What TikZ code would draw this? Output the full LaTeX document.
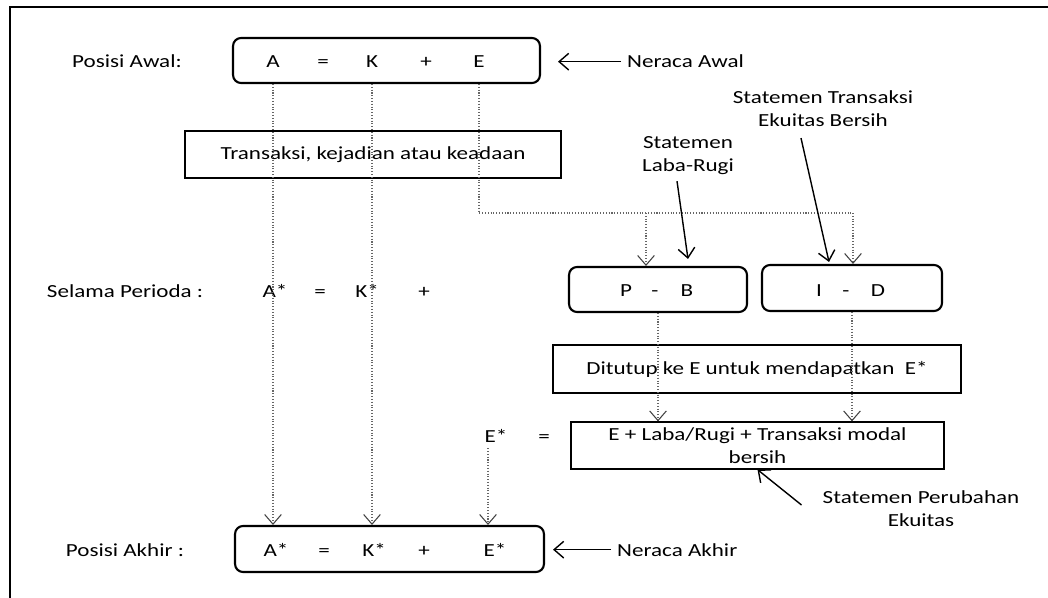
\documentclass[tikz,border=0pt]{standalone}
\usepackage{fontspec}
\setmainfont{Carlito}[FakeStretch=1.25]
\usetikzlibrary{arrows.meta}

\begin{document}
\begin{tikzpicture}[x=0.02cm, y=-0.02cm,
    font=\fontsize{10.5}{13}\selectfont,
    roundbox/.style={draw, line width=1.2pt, rounded corners=0.16cm, inner sep=0pt},
    plainbox/.style={draw, line width=0.7pt, inner sep=0pt},
    dotline/.style={black!60, densely dotted, line width=0.6pt},
    dotarrow/.style={dotline, -{Straight Barb[length=5.5pt, width=9.5pt, color=black!75]}},
    solidarrow/.style={line width=0.8pt, -{Straight Barb[length=5.5pt, width=9.5pt]}}]
    \useasboundingbox (0,0) rectangle (1048,598);
    \draw[line width=1.5pt] (10,598) -- (10,7) -- (1048,7);

    \node[anchor=base] (posAwal) at (127,68) {Posisi Awal:};
    \node[roundbox, minimum width=6.14cm, minimum height=0.9cm] (boxAwal) at (386.5,60.5) {};
    \node[anchor=base] (a0) at (273,68) {A};
    \node[anchor=base] (eq0) at (323,68) {=};
    \node[anchor=base] (k0) at (372,68) {K};
    \node[anchor=base] (plus0) at (426,68) {+};
    \node[anchor=base] (e0) at (479,68) {E};
    \node[anchor=base west] (lblNA) at (621,68) {Neraca Awal};

    \node[plainbox, minimum width=7.52cm, minimum height=0.94cm] (boxTr) at (373,154.5) {Transaksi, kejadian atau keadaan};
    \node[align=center] (lblTE) at (823,109) {Statemen Transaksi\\Ekuitas Bersih};
    \node[align=center] (lblLR) at (688,156) {Statemen\\Laba-Rugi};

    \node[anchor=base] (selama) at (125,297) {Selama Perioda :};
    \node[anchor=base] (a1) at (275,297) {A*};
    \node[anchor=base] (eq1) at (320,297) {=};
    \node[anchor=base] (k1) at (367,297) {K*};
    \node[anchor=base] (plus1) at (424,297) {+};

    \node[roundbox, minimum width=3.56cm, minimum height=0.9cm] (boxPB) at (658,289.5) {};
    \node[anchor=base] (p) at (626,296) {P};
    \node[anchor=base] (minPB) at (655,296) {-};
    \node[anchor=base] (b) at (687,296) {B};
    \node[roundbox, minimum width=3.6cm, minimum height=0.92cm] (boxID) at (852,288) {};
    \node[anchor=base] (i) at (819,296) {I};
    \node[anchor=base] (minID) at (846,296) {-};
    \node[anchor=base] (d) at (878,296) {D};

    \node[plainbox, minimum width=8.16cm, minimum height=0.96cm] (boxDT) at (757,369) {Ditutup ke E untuk mendapatkan\ \ E*};

    \node[anchor=base] (estar) at (496,442) {E*};
    \node[anchor=base] (eq2) at (544,442) {=};
    \node[plainbox, align=center, minimum width=7.46cm, minimum height=0.94cm] (boxE) at (757.5,445.5) {E + Laba/Rugi + Transaksi modal\\bersih};
    \node[align=center] (lblPE) at (921,509) {Statemen Perubahan\\Ekuitas};

    \node[anchor=base] (posAkhir) at (125,556) {Posisi Akhir :};
    \node[roundbox, minimum width=6.18cm, minimum height=0.92cm] (boxAkhir) at (389.5,549) {};
    \node[anchor=base] (a2) at (276,556) {A*};
    \node[anchor=base] (eq3) at (324,556) {=};
    \node[anchor=base] (k2) at (374,556) {K*};
    \node[anchor=base] (plus2) at (424,556) {+};
    \node[anchor=base] (e2) at (495,556) {E*};
    \node[anchor=base west] (lblNK) at (611,556) {Neraca Akhir};

    \coordinate (brPB) at (646,213);
    \coordinate (brID) at (853,213);

    \draw[dotarrow] (boxAwal.south -| a0) -- (boxAkhir.north -| a0);
    \draw[dotarrow] (boxAwal.south -| k0) -- (boxAkhir.north -| k0);
    \draw[dotline] (boxAwal.south -| e0) |- (brID);
    \draw[dotarrow] (brPB) -- (brPB |- boxPB.north);
    \draw[dotarrow] (brID) -- (brID |- boxID.north);
    \draw[dotarrow] (boxPB.south) -- (boxPB.south |- boxE.north);
    \draw[dotarrow] (boxID.south) -- (boxID.south |- boxE.north);
    \draw[dotarrow] ([xshift=-0.16cm]estar.south) -- ([xshift=-0.16cm]estar.south |- boxAkhir.north);

    \draw[solidarrow, shorten >=0.34cm] (lblNA.west) -- (lblNA.west -| boxAwal.east);
    \draw[solidarrow, shorten >=0.16cm] (lblNK.west) -- (lblNK.west -| boxAkhir.east);
    \draw[solidarrow] ([xshift=-0.22cm]lblLR.south) -- ([xshift=0.6cm, yshift=0.14cm]boxPB.north);
    \draw[solidarrow] ([xshift=-0.44cm, yshift=-0.1cm]lblTE.south) -- ([xshift=-0.46cm, yshift=0.04cm]boxID.north);
    \draw[solidarrow] ([xshift=-0.3cm, yshift=0.08cm]lblPE.west) -- (boxE.south);
\end{tikzpicture}
\end{document}
